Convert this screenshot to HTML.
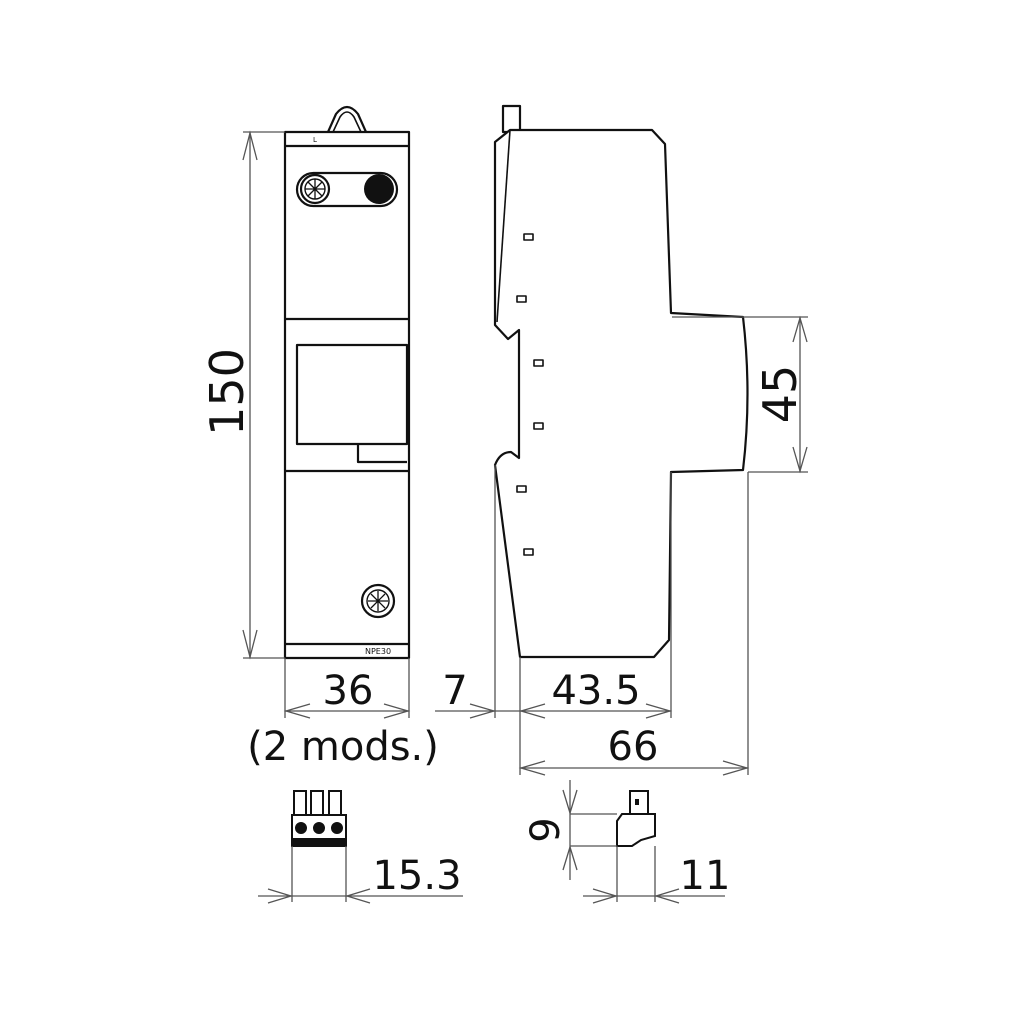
<!DOCTYPE html>
<html><head><meta charset="utf-8"><style>
html,body{margin:0;padding:0;background:#fff}
svg{display:block}
text{font-family:"DejaVu Sans","Liberation Sans",sans-serif;fill:#111}
</style></head><body>
<svg width="1010" height="1010" viewBox="0 0 1010 1010" xmlns="http://www.w3.org/2000/svg">
<g fill="none" stroke="#111" stroke-width="2.2" stroke-linejoin="round">
 <!-- front view -->
 <path d="M328,132 L336,114 Q347,100 358,114 L366,132" />
 <path d="M333,132 L340,117 Q347,107 354,117 L361,132" stroke-width="1.6"/>
 <rect x="285" y="132" width="124" height="526"/>
 <line x1="285" y1="146" x2="409" y2="146"/>
 <line x1="285" y1="319" x2="409" y2="319"/>
 <line x1="285" y1="471" x2="409" y2="471"/>
 <line x1="285" y1="644" x2="409" y2="644"/>
 <rect x="297" y="173" width="100" height="33" rx="16.5"/>
 <path d="M297,345 H407 V444 H297 Z" />
 <path d="M358,444 V462 H407" />
 <circle cx="315" cy="189" r="14"/>
 <circle cx="315" cy="189" r="10" stroke-width="1.4"/>
 <circle cx="378" cy="601" r="16"/>
 <circle cx="378" cy="601" r="11" stroke-width="1.4"/>
</g>
<circle cx="379" cy="189" r="15" fill="#111"/>
<g stroke="#111" stroke-width="1.3">
 <path d="M308,182 L322,196 M322,182 L308,196 M315,179 V199 M305,189 H325"/>
 <path d="M371,594 L385,608 M385,594 L371,608 M378,591 V611 M368,601 H388"/>
</g>
<text x="313" y="142" font-size="7">L</text>
<text x="365" y="654" font-size="8">NPE30</text>

<!-- side view -->
<g fill="none" stroke="#111" stroke-width="2.2" stroke-linejoin="round">
 <rect x="503" y="106" width="17" height="26"/>
 <path d="M510,130 H652 L665,144 L671,313 L743,317 Q752,394 743,470 L671,472 L669,640 L654,657 H520 L495,465 Q500,452 511,452 L519,458 V330 L508,339 L495,325 V142 Z" fill="#fff"/>
 <path d="M510,130 L497,322" stroke-width="1.6"/>
 <rect x="524" y="234" width="9" height="6" stroke-width="1.6"/>
 <rect x="517" y="296" width="9" height="6" stroke-width="1.6"/>
 <rect x="534" y="360" width="9" height="6" stroke-width="1.6"/>
 <rect x="534" y="423" width="9" height="6" stroke-width="1.6"/>
 <rect x="517" y="486" width="9" height="6" stroke-width="1.6"/>
 <rect x="524" y="549" width="9" height="6" stroke-width="1.6"/>
</g>

<!-- small parts -->
<g stroke="#111" stroke-width="2" fill="none">
 <rect x="292" y="815" width="54" height="31"/>
 <rect x="294" y="791" width="12" height="24"/>
 <rect x="311" y="791" width="12" height="24"/>
 <rect x="329" y="791" width="12" height="24"/>
 <circle cx="301" cy="828" r="5" fill="#111"/>
 <circle cx="319" cy="828" r="5" fill="#111"/>
 <circle cx="337" cy="828" r="5" fill="#111"/>
 <path d="M617,846 V821 L622,814 H655 V836 L641,840 L632,846 Z"/>
 <rect x="630" y="791" width="18" height="23"/>
</g>
<rect x="292" y="838" width="54" height="8" fill="#111"/>
<rect x="635" y="799" width="4" height="6" fill="#111"/>

<!-- dimensions -->
<g stroke="#555" stroke-width="1.3" fill="none">
 <line x1="243" y1="132" x2="285" y2="132"/><line x1="243" y1="658" x2="285" y2="658"/>
 <line x1="250" y1="132" x2="250" y2="658"/>
 <path d="M243,160 L250,133 L257,160 M243,630 L250,657 L257,630"/>
 <line x1="285" y1="658" x2="285" y2="718"/><line x1="409" y1="658" x2="409" y2="718"/>
 <line x1="285" y1="711" x2="409" y2="711"/>
 <path d="M310,704 L286,711 L310,718 M384,704 L408,711 L384,718"/>
 <line x1="495" y1="465" x2="495" y2="718"/>
 <line x1="520" y1="657" x2="520" y2="775"/>
 <line x1="671" y1="472" x2="671" y2="718"/>
 <line x1="748" y1="472" x2="748" y2="775"/>
 <line x1="435" y1="711" x2="671" y2="711"/>
 <path d="M470,704 L494,711 L470,718 M545,704 L521,711 L545,718 M646,704 L670,711 L646,718"/>
 <line x1="520" y1="768" x2="748" y2="768"/>
 <path d="M545,761 L521,768 L545,775 M723,761 L747,768 L723,775"/>
 <line x1="672" y1="317" x2="808" y2="317"/><line x1="748" y1="472" x2="808" y2="472"/>
 <line x1="800" y1="317" x2="800" y2="472"/>
 <path d="M793,342 L800,318 L807,342 M793,447 L800,471 L807,447"/>
 <line x1="292" y1="846" x2="292" y2="902"/><line x1="346" y1="846" x2="346" y2="902"/>
 <line x1="258" y1="896" x2="463" y2="896"/>
 <path d="M268,889 L291,896 L268,903 M370,889 L347,896 L370,903"/>
 <line x1="570" y1="780" x2="570" y2="880"/>
 <line x1="570" y1="814" x2="617" y2="814"/><line x1="570" y1="846" x2="617" y2="846"/>
 <path d="M563,790 L570,813 L577,790 M563,870 L570,847 L577,870"/>
 <line x1="617" y1="846" x2="617" y2="902"/><line x1="655" y1="846" x2="655" y2="902"/>
 <line x1="583" y1="896" x2="725" y2="896"/>
 <path d="M593,889 L616,896 L593,903 M679,889 L656,896 L679,903"/>
</g>
<text x="0" y="0" font-size="46" text-anchor="middle" transform="translate(243,392) rotate(-90)">150</text>
<text x="0" y="0" font-size="46" text-anchor="middle" transform="translate(796,394) rotate(-90)">45</text>
<text x="348" y="704" font-size="40" text-anchor="middle">36</text>
<text x="343" y="760" font-size="40" text-anchor="middle">(2 mods.)</text>
<text x="455" y="704" font-size="40" text-anchor="middle">7</text>
<text x="596" y="704" font-size="40" text-anchor="middle">43.5</text>
<text x="633" y="760" font-size="40" text-anchor="middle">66</text>
<text x="417" y="889" font-size="40" text-anchor="middle">15.3</text>
<text x="705" y="889" font-size="40" text-anchor="middle">11</text>
<text x="0" y="0" font-size="40" text-anchor="middle" transform="translate(559,830) rotate(-90)">9</text>
</svg>
</body></html>
